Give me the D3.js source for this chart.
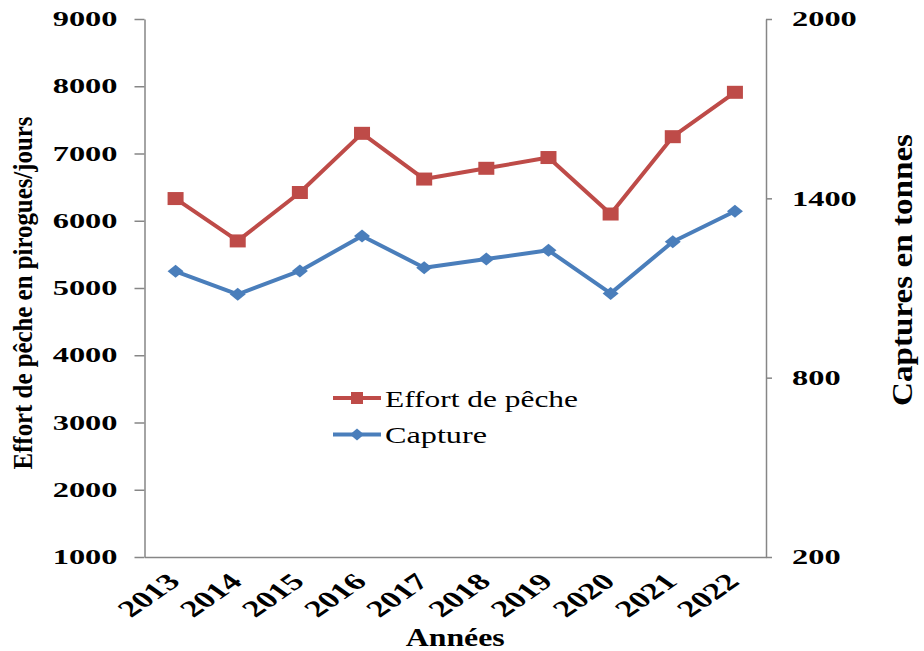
<!DOCTYPE html>
<html>
<head>
<meta charset="utf-8">
<script src="https://cdn.jsdelivr.net/npm/d3@7"></script>
<style>
  body { margin: 0; background: #fff; }
  svg text { font-family: "Liberation Serif", "Times New Roman", Times, serif; fill: #000; }
</style>
</head>
<body>
<div id="lineChart"></div>
<script>
// data
var years = ["2013", "2014", "2015", "2016", "2017", "2018", "2019", "2020", "2021", "2022"]
var effort = [6330, 5700, 6420, 7300, 6620, 6780, 6940, 6100, 7250, 7910]
var capture = [1156, 1079, 1157, 1274, 1168, 1197, 1226, 1082, 1255, 1357]
var effortTicks = [1000, 2000, 3000, 4000, 5000, 6000, 7000, 8000, 9000]
var captureTicks = [200, 800, 1400, 2000]
var seriesNames = ["Effort de pêche", "Capture"]

function drawLines() {

  var dimensions = {
    width: 924,
    height: 651,
    margin: { top: 19, right: 158, bottom: 94, left: 144.5 },
  }
  dimensions.boundedWidth = dimensions.width - dimensions.margin.left - dimensions.margin.right
  dimensions.boundedHeight = dimensions.height - dimensions.margin.top - dimensions.margin.bottom

  var red = "#BE4B48"
  var blue = "#4A7EBB"
  var axisColor = "#868686"
  var serif = '"Liberation Serif", "Times New Roman", Times, serif'

  var wrapper = d3.select("#lineChart")
    .append("svg")
    .attr("width", dimensions.width)
    .attr("height", dimensions.height)
    .style("font-family", serif)

  var bounds = wrapper.append("g")
    .attr("transform", `translate(${dimensions.margin.left},${dimensions.margin.top})`)

  // scales
  var xScale = d3.scaleBand()
    .domain(years)
    .range([0, dimensions.boundedWidth])

  var xCenter = d => xScale(d) + xScale.bandwidth() / 2

  var yLeft = d3.scaleLinear()
    .domain([1000, 9000])
    .range([dimensions.boundedHeight, 0])

  var yRight = d3.scaleLinear()
    .domain([200, 2000])
    .range([dimensions.boundedHeight, 0])

  var formatTick = d3.format("d")

  // axes
  var xAxis = bounds.append("g")
    .attr("transform", `translate(0,${dimensions.boundedHeight})`)
    .attr("font-family", serif)
    .call(d3.axisBottom(xScale).tickSize(0).tickSizeOuter(0))

  xAxis.selectAll("text")
    .attr("x", 0).attr("y", 0).attr("dy", 0)
    .style("text-anchor", "end")
    .style("font-family", serif)
    .style("font-size", "23px")
    .style("font-weight", "bold")
    .attr("textLength", 50)
    .attr("lengthAdjust", "spacingAndGlyphs")
    .attr("transform", "translate(6,26) scale(1.43,1) rotate(-45)")

  var leftAxis = bounds.append("g")
    .call(d3.axisLeft(yLeft).tickValues(effortTicks).tickFormat(formatTick)
      .tickSize(10).tickPadding(17).tickSizeOuter(0))

  var rightAxis = bounds.append("g")
    .attr("transform", `translate(${dimensions.boundedWidth},0)`)
    .call(d3.axisRight(yRight).tickValues(captureTicks).tickFormat(formatTick)
      .tickSize(6).tickPadding(20).tickSizeOuter(0))

  ;[leftAxis, rightAxis].forEach(ax => {
    ax.attr("font-family", serif)
    ax.selectAll("text")
      .style("font-family", serif)
      .style("font-size", "21px")
      .style("font-weight", "bold")
      .attr("textLength", d => formatTick(d).length * 16.2)
      .attr("lengthAdjust", "spacingAndGlyphs")
  })

  bounds.selectAll(".domain, .tick line")
    .attr("stroke", axisColor)
    .attr("stroke-width", 1.5)

  // lines
  var effortLine = d3.line()
    .x((d, i) => xCenter(years[i]))
    .y(d => yLeft(d))

  var captureLine = d3.line()
    .x((d, i) => xCenter(years[i]))
    .y(d => yRight(d))

  bounds.append("path")
    .attr("d", captureLine(capture))
    .attr("fill", "none")
    .attr("stroke", blue)
    .attr("stroke-width", 4)
    .attr("stroke-linejoin", "round")

  bounds.append("path")
    .attr("d", effortLine(effort))
    .attr("fill", "none")
    .attr("stroke", red)
    .attr("stroke-width", 4)
    .attr("stroke-linejoin", "round")

  var diamond = "M0,-6.5L8,0L0,6.5L-8,0Z"

  bounds.selectAll(".capture-marker")
    .data(capture)
    .enter()
    .append("path")
    .attr("class", "capture-marker")
    .attr("d", diamond)
    .attr("fill", blue)
    .attr("transform", (d, i) => `translate(${xCenter(years[i])},${yRight(d)})`)

  bounds.selectAll(".effort-marker")
    .data(effort)
    .enter()
    .append("rect")
    .attr("class", "effort-marker")
    .attr("x", (d, i) => xCenter(years[i]) - 8)
    .attr("y", d => yLeft(d) - 6.5)
    .attr("width", 16)
    .attr("height", 13)
    .attr("fill", red)

  // legend
  var legend = wrapper.append("g")
    .attr("transform", "translate(333,398)")

  var legendColors = [red, blue]
  var legendWidths = [193, 102]

  seriesNames.forEach((name, i) => {
    var row = legend.append("g").attr("transform", `translate(0,${i * 36.5})`)
    row.append("line")
      .attr("x1", 0).attr("x2", 48)
      .attr("stroke", legendColors[i])
      .attr("stroke-width", 4)
    if (i == 0) {
      row.append("rect")
        .attr("x", 18).attr("y", -6)
        .attr("width", 12).attr("height", 12)
        .attr("fill", red)
    } else {
      row.append("path")
        .attr("d", "M24,-6L31,0L24,6L17,0Z")
        .attr("fill", blue)
    }
    row.append("text")
      .attr("x", 52)
      .attr("y", 8.5)
      .style("font-size", "24px")
      .attr("textLength", legendWidths[i])
      .attr("lengthAdjust", "spacingAndGlyphs")
      .text(name)
  })

  // axis titles
  wrapper.append("text")
    .attr("transform", "translate(32,293) rotate(-90)")
    .style("text-anchor", "middle")
    .style("font-size", "27px")
    .style("font-weight", "bold")
    .attr("textLength", 353)
    .attr("lengthAdjust", "spacingAndGlyphs")
    .text("Effort de pêche en pirogues/jours")

  wrapper.append("text")
    .attr("transform", "translate(912,270) rotate(-90)")
    .style("text-anchor", "middle")
    .style("font-size", "30px")
    .style("font-weight", "bold")
    .attr("textLength", 272)
    .attr("lengthAdjust", "spacingAndGlyphs")
    .text("Captures en tonnes")

  wrapper.append("text")
    .attr("x", dimensions.margin.left + dimensions.boundedWidth / 2)
    .attr("y", 646)
    .style("text-anchor", "middle")
    .style("font-size", "26px")
    .style("font-weight", "bold")
    .attr("textLength", 99)
    .attr("lengthAdjust", "spacingAndGlyphs")
    .text("Années")
}

drawLines()
</script>
</body>
</html>
